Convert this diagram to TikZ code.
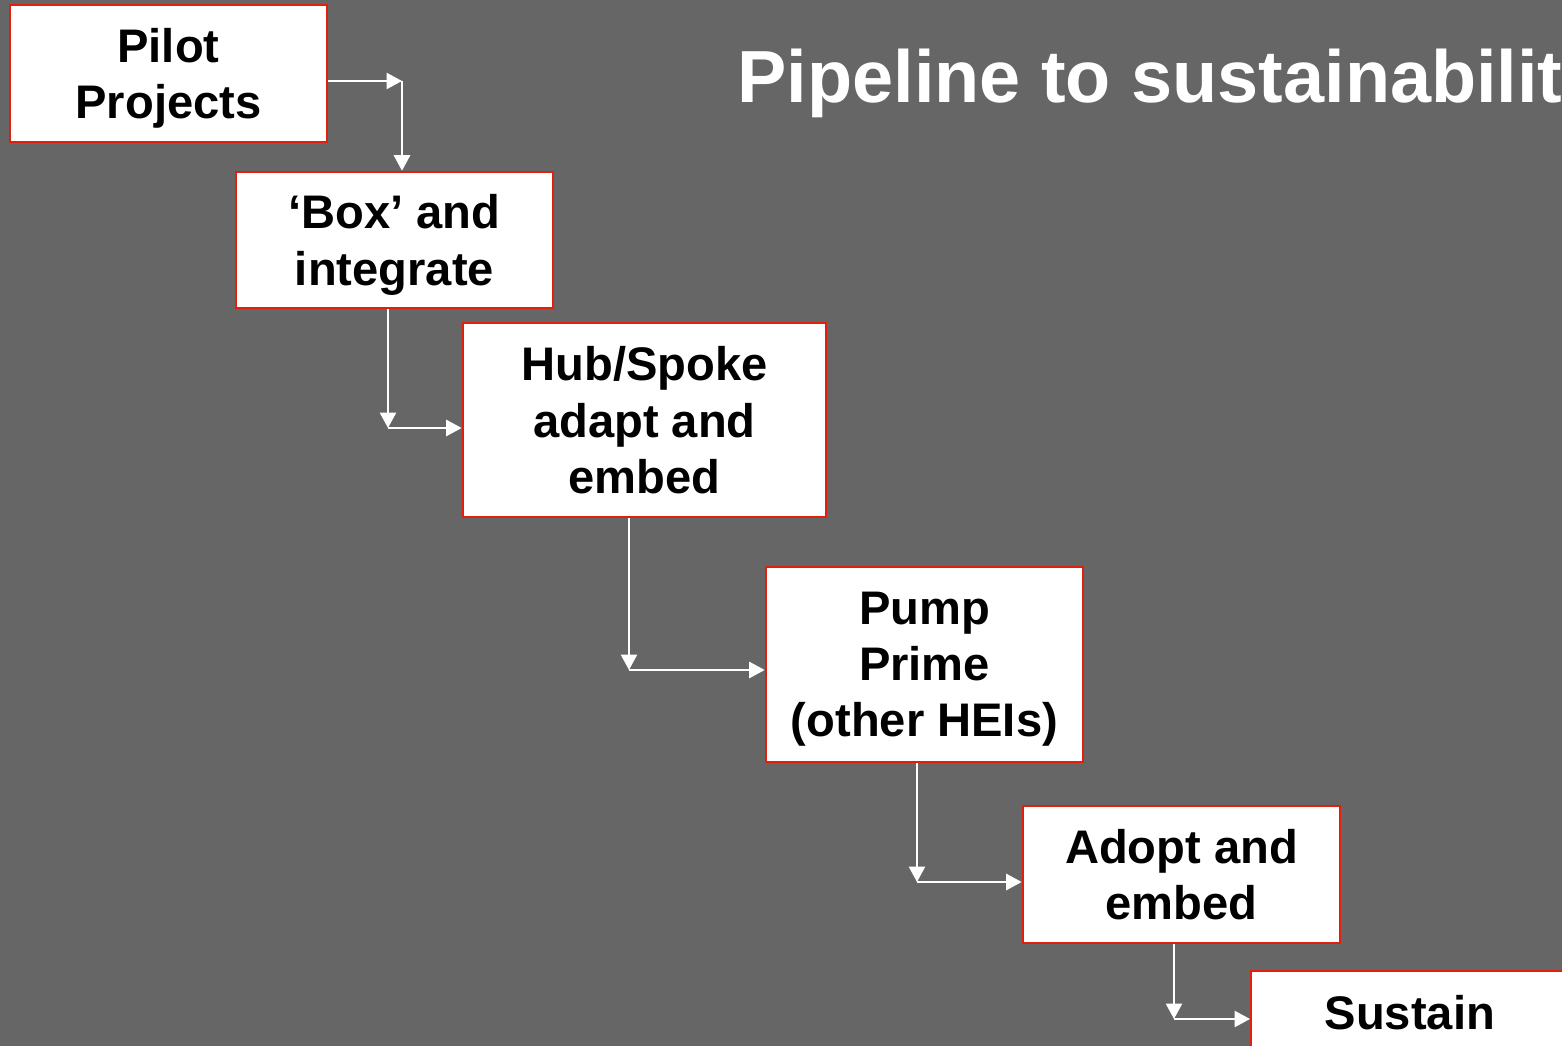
\documentclass[tikz,border=0pt]{standalone}
\usepackage{fontspec}
\setmainfont{Liberation Sans}
\usetikzlibrary{positioning,arrows.meta}
\definecolor{slidegray}{HTML}{666666}
\definecolor{boxred}{HTML}{E0200C}
\tikzset{>={Triangle[length=4.4pt,width=4.6pt]}}
\tikzset{stage/.style={draw=boxred,line width=0.7pt,fill=white,align=center,
  font=\fontsize{13.4}{16}\selectfont\bfseries,minimum width=3.17cm,inner sep=0pt,text depth=0pt},
  link/.style={->,draw=white,line width=0.6pt}}
\begin{document}
\begin{tikzpicture}[x=0.01cm,y=-0.01cm]
\fill[slidegray] (0,0) rectangle (1562,1046);
\useasboundingbox (0,0) rectangle (1562,1046);
\node[anchor=base west,text=white,inner sep=0pt,font=\fontsize{21}{25}\selectfont\bfseries] (title) at (737,103) {Pipeline to sustainability};
\node[stage,minimum height=1.37cm] (pilot) at (168.5,73.5) {Pilot\\Projects};
\node[stage,minimum height=1.36cm] (box) at (394.5,240) {‘Box’ and\\integrate};
\node[stage,minimum width=3.63cm,minimum height=1.94cm] (hub) at (644.5,420) {Hub/Spoke\\adapt and\\embed};
\node[stage,minimum height=1.95cm] (pump) at (924.5,664.5) {Pump\\Prime\\(other HEIs)};
\node[stage,minimum height=1.37cm] (adopt) at (1181.5,874.5) {Adopt and\\embed};
\node[stage,anchor=north west,text height=0.5cm,text depth=0.8cm,inner ysep=0.08cm] (sustain) at (1250,970) {Sustain};
\coordinate (b1) at (402,81);
\coordinate (b2) at (388,428);
\coordinate (b3) at (629,670);
\coordinate (b4) at (917,882);
\coordinate (b5) at (1174,1019);
\draw[link] (pilot.east |- b1) -- (b1);
\draw[link] (b1) -- (b1 |- box.north);
\draw[link] (b2 |- box.south) -- (b2);
\draw[link] (b2) -- (b2 -| hub.west);
\draw[link] (b3 |- hub.south) -- (b3);
\draw[link] (b3) -- (b3 -| pump.west);
\draw[link] (b4 |- pump.south) -- (b4);
\draw[link] (b4) -- (b4 -| adopt.west);
\draw[link] (b5 |- adopt.south) -- (b5);
\draw[link] (b5) -- (b5 -| sustain.west);
\end{tikzpicture}
\end{document}
